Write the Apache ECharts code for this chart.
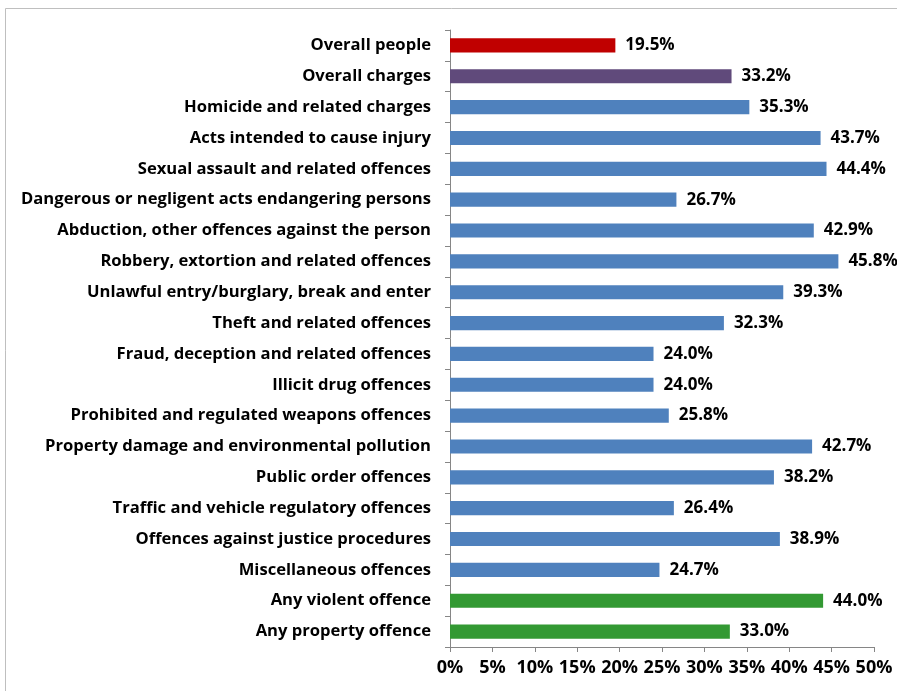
<!DOCTYPE html>
<html>
<head>
<meta charset="utf-8">
<script src="https://cdn.jsdelivr.net/npm/echarts@6/dist/echarts.min.js"></script>
<style>
  html, body { margin: 0; padding: 0; background: #fff; }
  #chart { width: 897px; height: 691px; }
</style>
</head>
<body>
<div id="chart"></div>
<script>
// categories, top to bottom
const categories = [
  'Overall people',
  'Overall charges',
  'Homicide and related charges',
  'Acts intended to cause injury',
  'Sexual assault and related offences',
  'Dangerous or negligent acts endangering persons',
  'Abduction, other offences against the person',
  'Robbery, extortion and related offences',
  'Unlawful entry/burglary, break and enter',
  'Theft and related offences',
  'Fraud, deception and related offences',
  'Illicit drug offences',
  'Prohibited and regulated weapons offences',
  'Property damage and environmental pollution',
  'Public order offences',
  'Traffic and vehicle regulatory offences',
  'Offences against justice procedures',
  'Miscellaneous offences',
  'Any violent offence',
  'Any property offence'
];
const values = [19.5, 33.2, 35.3, 43.7, 44.4, 26.7, 42.9, 45.8, 39.3, 32.3,
  24.0, 24.0, 25.8, 42.7, 38.2, 26.4, 38.9, 24.7, 44.0, 33.0];
// bar group per row: p = people, c = charges, o = offence type, a = any
const groups = ['p', 'c', 'o', 'o', 'o', 'o', 'o', 'o', 'o', 'o',
  'o', 'o', 'o', 'o', 'o', 'o', 'o', 'o', 'a', 'a'];
const groupColors = { p: '#C00000', c: '#604A7B', o: '#4F81BD', a: '#339933' };

const font = '"Open Sans", "Noto Sans", sans-serif';

const chart = echarts.init(document.getElementById('chart'));
chart.setOption({
  animation: false,
  graphic: [{
    type: 'rect',
    shape: { x: 5.5, y: 8.5, width: 900, height: 700 },
    style: { fill: 'none', stroke: '#bfbfbf', lineWidth: 1 },
    silent: true
  }],
  grid: { left: 450, right: 23, top: 30, bottom: 44, containLabel: false },
  xAxis: {
    type: 'value',
    min: 0,
    max: 50,
    interval: 5,
    splitLine: { show: false },
    axisLine: { show: true, lineStyle: { color: '#868686' } },
    axisTick: { show: true, length: 5, lineStyle: { color: '#868686' } },
    axisLabel: {
      formatter: '{value}%',
      color: '#000',
      fontFamily: font,
      fontWeight: 'bold',
      fontSize: 18,
      margin: 12
    }
  },
  yAxis: {
    type: 'category',
    inverse: true,
    data: categories,
    axisLine: { show: true, lineStyle: { color: '#868686' } },
    axisTick: { show: true, length: 5, lineStyle: { color: '#868686' } },
    axisLabel: {
      color: '#000',
      fontFamily: font,
      fontWeight: 'bold',
      fontSize: 16.6,
      margin: 19
    }
  },
  series: [{
    type: 'bar',
    barCategoryGap: '54%',
    data: values.map((v, i) => ({
      value: v,
      itemStyle: { color: groupColors[groups[i]] }
    })),
    label: {
      show: true,
      position: 'right',
      distance: 10,
      formatter: p => p.value.toFixed(1) + '%',
      color: '#000',
      fontFamily: font,
      fontWeight: 'bold',
      fontSize: 17
    }
  }]
});
</script>
</body>
</html>
